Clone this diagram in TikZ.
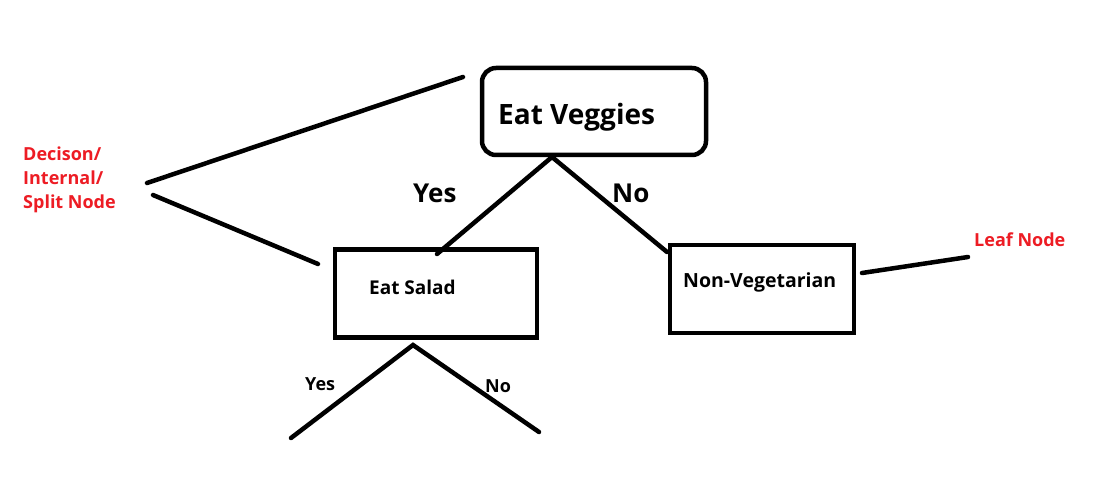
\documentclass[tikz,border=0pt]{standalone}
\usepackage{fontspec}
\setmainfont{Open Sans}
\definecolor{pred}{RGB}{237,28,36}
\begin{document}
\begin{tikzpicture}[x=1pt,y=-1pt,
  box/.style={draw, line width=4.5pt, inner sep=0pt},
  conn/.style={line width=4.5pt, line cap=round},
  txt/.style={anchor=base west, inner sep=0pt, font=\bfseries\fontsize{#1}{#1}\selectfont},
  rtxt/.style={anchor=base west, inner sep=0pt, text=pred, align=left, font=\bfseries\fontsize{18}{24}\selectfont},
]
\useasboundingbox[fill=white] (0,0) rectangle (1107,489);
% boxes
\node[box, rounded corners=14pt, minimum width=224pt, minimum height=87pt] (veg) at (594,111.5) {};
\node[box, minimum width=202pt, minimum height=88pt] (salad) at (436,293.5) {};
\node[box, minimum width=184pt, minimum height=88pt] (nonveg) at (762,289) {};
% texts
\node[txt=28] (vegT) at (498,125) {Eat Veggies};
\node[txt=19] (saladT) at (369,294) {Eat Salad};
\node[txt=19.5] (nonvegT) at (683,287) {Non-Vegetarian};
\node[txt=26] (yes1) at (413,202) {Yes};
\node[txt=26] (no1) at (612,202) {No};
\node[txt=18] (yes2) at (305,390) {Yes};
\node[txt=18] (no2) at (485,392) {No};
\node[rtxt] (dec) at (23,208) {Decison/\\Internal/\\Split Node};
\node[rtxt] (leaf) at (974,246) {Leaf Node};
% coordinates
\coordinate (apex1) at (552,157);
\coordinate (s1) at (437,254);
\coordinate (n1) at (667,252);
\coordinate (apex2) at (413,345);
\coordinate (s2) at (291,438);
\coordinate (n2) at (539,432);
\coordinate (d0) at (147,183);
\coordinate (d1) at (463,77);
\coordinate (d2) at (153,195);
\coordinate (d3) at (318,264);
\coordinate (l0) at (862,273);
\coordinate (l1) at (968,257);
% connectors
\draw[conn] (apex1) -- (s1);
\draw[conn] (apex1) -- (n1);
\draw[conn] (s2) -- (apex2) -- (n2);
\draw[conn] (d1) -- (d0);
\draw[conn] (d2) -- (d3);
\draw[conn] (l0) -- (l1);
\end{tikzpicture}
\end{document}
